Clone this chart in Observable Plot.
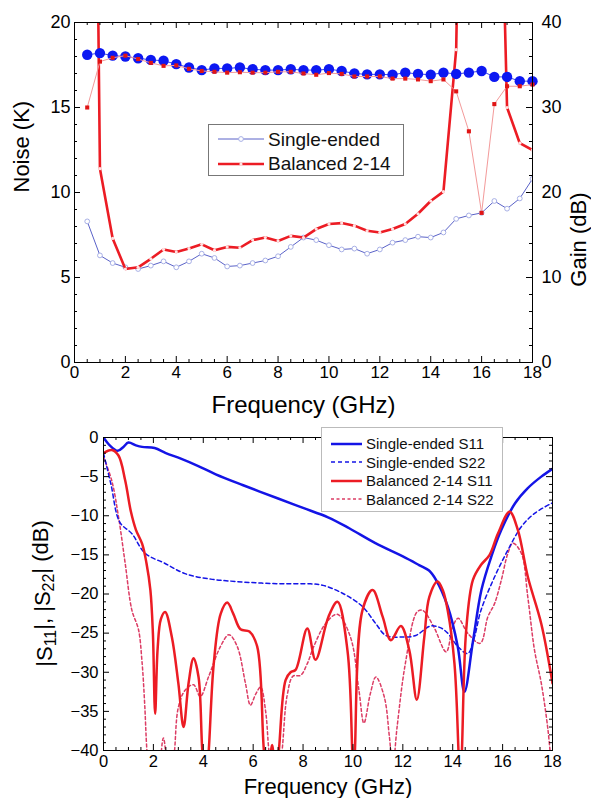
<!DOCTYPE html>
<html><head><meta charset="utf-8">
<script src="https://cdn.jsdelivr.net/npm/d3@7"></script>
<script src="https://cdn.jsdelivr.net/npm/@observablehq/plot@0.6"></script>
<style>
body{margin:0;background:#fff;font-family:"Liberation Sans",Arial,sans-serif;}
#wrap{position:relative;width:591px;height:798px;overflow:hidden;}
#top,#bot{display:block;line-height:0;}
svg{overflow:visible;}
.lg{position:absolute;background:#fff;box-sizing:border-box;}
.lg .row{position:absolute;left:0;display:flex;align-items:center;white-space:nowrap;color:#111;line-height:1;}
.lg svg{display:block;}
</style></head><body>
<div id="wrap"><div id="top"></div><div id="bot"></div></div>
<script>
// ---------- DATA: top chart (noise / gain vs frequency) ----------
const topFreq = [0.5,1,1.5,2,2.5,3,3.5,4,4.5,5,5.5,6,6.5,7,7.5,8,8.5,9,9.5,10,10.5,11,11.5,12,12.5,13,13.5,14,14.5,15,15.5,16,16.5,17,17.5,18];
const seNoise = [8.3,6.3,5.85,5.6,5.5,5.7,5.95,5.6,5.95,6.4,6.15,5.65,5.7,5.85,6.0,6.25,6.8,7.35,7.2,6.9,6.65,6.7,6.4,6.65,7.05,7.2,7.4,7.35,7.65,8.45,8.65,8.8,9.5,9.05,9.65,10.8];
const balNoise = [80,11.4,7.3,5.5,5.6,6.1,6.65,6.5,6.7,6.95,6.6,6.8,6.75,7.2,7.35,7.15,7.45,7.35,7.85,8.15,8.2,8.05,7.75,7.65,7.85,8.15,8.75,9.5,10.05,18.4,60,60,45,15.0,12.9,12.5];
const seGain = [36.2,36.4,36.1,36.0,35.8,35.6,35.5,35.1,34.7,34.4,34.6,34.6,34.7,34.5,34.4,34.4,34.5,34.4,34.4,34.5,34.3,34.0,33.9,33.9,33.85,34.1,33.95,33.85,34.1,33.95,34.1,34.3,33.6,33.6,33.1,33.1];
const balGain = [30.0,35.4,35.85,36.1,35.7,35.25,34.9,34.95,34.55,34.3,34.2,34.1,34.15,34.1,34.1,34.2,34.2,34.0,33.85,34.05,33.95,33.65,33.65,33.65,33.4,33.4,33.3,33.1,33.3,31.9,27.2,17.6,30.4,32.5,32.5,32.7];
const topNames = ["Single-ended","Balanced 2-14"];
const freqTicks = [0,2,4,6,8,10,12,14,16,18];
const noiseTicks = [0,5,10,15,20];
const gainTicks = [0,10,20,30,40];

// ---------- DATA: bottom chart (|S11|, |S22| in dB) ----------
const seS11F = [0,0.25,0.57,0.8,1.0,1.3,1.55,2.05,2.5,3.1,3.8,4.5,5.6,7.0,8.0,9.0,9.85,10.9,12.0,12.65,13.05,13.33,13.8,14.2,14.47,14.8,15.15,15.55,15.95,16.5,17.0,17.55,18.0];
const seS11 = [0,-1.0,-1.7,-1.2,-0.65,-1.0,-1.2,-1.35,-2.0,-2.7,-3.65,-4.7,-6.1,-7.8,-9.0,-10.2,-11.6,-13.5,-15.2,-16.3,-17.0,-18.2,-21.6,-26.7,-32.5,-26.3,-19.5,-15.2,-11.8,-8.4,-6.5,-5.0,-4.0];
const seS22F = [0,0.3,0.65,1.14,1.67,2.47,3.27,4.3,5.3,6.3,7.3,8.3,8.8,9.58,10.38,10.92,11.32,11.99,12.52,13.1,13.5,13.8,14.2,14.6,14.87,15.13,15.68,16.21,16.75,17.28,18];
const seS22 = [-2.0,-6.0,-10.8,-12.3,-14.8,-16.1,-17.4,-18.1,-18.4,-18.6,-18.7,-18.7,-18.9,-19.9,-21.6,-23.8,-25.3,-25.5,-25.3,-24.1,-24.3,-25.0,-26.7,-27.6,-25.5,-22.1,-17.8,-14.4,-11.4,-9.7,-8.35];
const balS11F = [0,0.33,0.6,0.87,1.1,1.3,1.55,1.72,1.88,1.98,2.07,2.17,2.3,2.47,2.74,3.0,3.21,3.41,3.61,3.81,3.96,4.1,4.22,4.42,4.7,4.96,5.2,5.49,5.85,6.16,6.43,6.58,6.76,6.9,7.03,7.3,7.5,7.7,8.17,8.5,9.02,9.38,9.78,9.97,10.02,10.08,10.38,10.79,11.19,11.52,11.92,12.26,12.56,12.86,13.06,13.39,13.6,13.8,14.07,14.23,14.3,14.37,14.54,14.81,15.13,15.48,15.81,16.28,16.61,17.01,17.55,18];
const balS11 = [-2.0,-1.6,-2.3,-5.5,-9.5,-11.8,-13.6,-16,-19.5,-25,-35.3,-27,-23.2,-22.3,-25.5,-31.4,-37.0,-31.4,-28.2,-30.6,-40,-45,-40,-28.9,-22.5,-21.1,-22.5,-24.5,-24.8,-26.7,-40,-44,-39.3,-44,-40,-31,-30,-29.7,-24.4,-28.4,-22.9,-21.0,-27.2,-40,-46,-40,-22.1,-19.5,-22.9,-25.9,-24.1,-27.2,-33.5,-25.5,-20.4,-18.4,-19.5,-22.1,-28.9,-40,-46,-40,-24.6,-18.2,-16.3,-15.0,-12.3,-9.5,-11.8,-17.8,-23.8,-31.4];
const balS22F = [0,0.33,0.6,0.87,1.14,1.4,1.54,1.65,1.74,1.95,2.2,2.4,2.55,2.7,2.85,3.0,3.27,3.61,3.88,4.21,4.69,5.03,5.36,5.69,5.89,6.1,6.3,6.5,6.63,6.9,7.16,7.36,7.6,7.9,8.17,8.43,8.9,9.37,9.9,10.24,10.44,10.7,10.92,11.26,11.46,11.6,11.77,12.1,12.57,12.8,13.24,13.74,14.0,14.22,14.6,15.1,15.41,15.68,15.95,16.21,16.41,16.75,17.01,17.28,17.55,17.82,17.95];
const balS22 = [-2.5,-5.5,-10.1,-16.1,-22.1,-24.5,-28.5,-34,-40,-48,-44,-38.4,-42,-46,-40,-34.5,-32.3,-31.6,-33.1,-30.6,-26.7,-25.2,-26.7,-31.4,-34.2,-32.8,-31.9,-35,-40,-47,-40,-33,-30.5,-30.4,-28.9,-26.7,-23.8,-22.6,-25.5,-32.3,-36.5,-32.7,-30.6,-33.2,-38.2,-42,-37,-28.9,-22.3,-22.1,-24.2,-27.4,-24.2,-23.1,-25.0,-26.3,-22.9,-21.2,-18.2,-14.8,-13.5,-14.8,-20.4,-27.2,-31.4,-37.4,-42];
const botNames = ["Single-ended S11","Single-ended S22","Balanced 2-14 S11","Balanced 2-14 S22"];
const dbTicks = [0,-5,-10,-15,-20,-25,-30,-35,-40];

// ---------- styles ----------
const BLUE = "#1414e6", RED = "#ec1c24", PINK = "#dc3c64";
const FONT = "Liberation Sans, Arial, sans-serif";
const W = 591;

function frameTicks(innerW, innerH, xMaj, xMin, yMaj, yMin) {
  const L = 6, l = 3;
  return [
    Plot.tickX(xMaj, {x: d => d, insetTop: innerH - L}),
    Plot.tickX(xMaj, {x: d => d, insetBottom: innerH - L}),
    Plot.tickX(xMin, {x: d => d, insetTop: innerH - l}),
    Plot.tickX(xMin, {x: d => d, insetBottom: innerH - l}),
    Plot.tickY(yMaj, {y: d => d, insetRight: innerW - L}),
    Plot.tickY(yMin, {y: d => d, insetRight: innerW - l}),
    Plot.tickY(yMaj, {y: d => d, insetLeft: innerW - L}),
    Plot.tickY(yMin, {y: d => d, insetLeft: innerW - l})
  ];
}
const halfSteps = d3.range(0, 36.5, 1).map(i => i / 2).filter(v => v % 2 !== 0);

// ---------- top chart ----------
const tm = {top: 22, right: 59, bottom: 53, left: 74};
const tH = 415;
const tInW = W - tm.left - tm.right, tInH = tH - tm.top - tm.bottom;
const rows = topFreq.map((f, i) => ({f, seN: seNoise[i], balN: balNoise[i], seG: seGain[i], balG: balGain[i]}));
const noiseMinor = d3.range(0, 21).filter(v => v % 5 !== 0);

const topPlot = Plot.plot({
  width: W, height: tH,
  marginTop: tm.top, marginRight: tm.right, marginBottom: tm.bottom, marginLeft: tm.left,
  style: {fontFamily: FONT, fontSize: "17px", background: "white", color: "#000", overflow: "visible"},
  x: {domain: [0, 18]},
  y: {domain: [0, 20]},
  marks: [
    // noise
    Plot.line(rows, {x: "f", y: "seN", stroke: "#5a62c8", strokeWidth: 1, clip: true}),
    Plot.dot(rows, {x: "f", y: "seN", r: 2.4, fill: "white", stroke: "#a8b0e6", strokeWidth: 1, clip: true}),
    Plot.line(rows, {x: "f", y: "balN", stroke: RED, strokeWidth: 2.6, clip: true}),
    Plot.dot(rows, {x: "f", y: "balN", r: 1.6, fill: "#ffe0e0", clip: true}),
    // gain (right axis, 0..40 dB mapped onto 0..20)
    Plot.line(rows, {x: "f", y: d => d.seG / 2, stroke: "#3a46e8", strokeWidth: 1}),
    Plot.dot(rows, {x: "f", y: d => d.seG / 2, r: 5.2, fill: "#0c18f2"}),
    Plot.line(rows, {x: "f", y: d => d.balG / 2, stroke: "#f39a9a", strokeWidth: 1}),
    Plot.dot(rows, {x: "f", y: d => d.balG / 2, symbol: "square", r: 2.3, fill: "#e01414"}),
    Plot.frame({stroke: "#000", strokeWidth: 1}),
    ...frameTicks(tInW, tInH, freqTicks, halfSteps, noiseTicks, noiseMinor),
    Plot.axisX(freqTicks, {tickSize: 0, tickPadding: 3, fontSize: 17, label: null}),
    Plot.axisY(noiseTicks, {anchor: "left", tickSize: 0, tickPadding: 4, fontSize: 18, label: null}),
    Plot.axisY(gainTicks.map(g => g / 2), {anchor: "right", tickSize: 0, tickPadding: 9, fontSize: 18, label: null, tickFormat: d => String(d * 2)}),
    Plot.text(["Frequency (GHz)"], {text: d => d, frameAnchor: "bottom", dy: 50, fontSize: 24}),
    Plot.text(["Noise (K)"], {text: d => d, frameAnchor: "left", dx: -53, rotate: -90, fontSize: 22}),
    Plot.text(["Gain (dB)"], {text: d => d, frameAnchor: "right", dx: 46, rotate: -90, fontSize: 22})
  ]
});
document.getElementById("top").appendChild(topPlot);

// ---------- bottom chart ----------
const bm = {top: 22, right: 39, bottom: 48, left: 103};
const bH = 383;
const bInW = W - bm.left - bm.right, bInH = bH - bm.top - bm.bottom;
const curve = (F, V) => F.map((f, i) => ({f, v: V[i]}));
const dbMinor = d3.range(-40, 1).filter(v => v % 5 !== 0);

const botPlot = Plot.plot({
  width: W, height: bH,
  marginTop: bm.top, marginRight: bm.right, marginBottom: bm.bottom, marginLeft: bm.left,
  style: {fontFamily: FONT, fontSize: "16.5px", background: "white", color: "#000", overflow: "visible"},
  x: {domain: [0, 18]},
  y: {domain: [-40, 0]},
  marks: [
    Plot.line(curve(balS22F, balS22), {x: "f", y: "v", stroke: PINK, strokeWidth: 1.5, strokeDasharray: "3,2.5", curve: "catmull-rom", clip: true}),
    Plot.line(curve(seS22F, seS22), {x: "f", y: "v", stroke: BLUE, strokeWidth: 1.5, strokeDasharray: "4,3", curve: "catmull-rom", clip: true}),
    Plot.line(curve(seS11F, seS11), {x: "f", y: "v", stroke: BLUE, strokeWidth: 2.5, curve: "catmull-rom", clip: true}),
    Plot.line(curve(balS11F, balS11), {x: "f", y: "v", stroke: RED, strokeWidth: 2.5, curve: "catmull-rom", clip: true}),
    Plot.frame({stroke: "#000", strokeWidth: 1}),
    ...frameTicks(bInW, bInH, freqTicks, halfSteps, dbTicks, dbMinor),
    Plot.axisX(freqTicks, {tickSize: 0, tickPadding: 5, fontSize: 16.5, label: null}),
    Plot.axisY(dbTicks, {anchor: "left", tickSize: 0, tickPadding: 5, fontSize: 16.5, label: null}),
    Plot.text(["Frequency (GHz)"], {text: d => d, frameAnchor: "bottom", dy: 43, fontSize: 22})
  ]
});
document.getElementById("bot").appendChild(botPlot);

// y label with subscripts
{
  const t = d3.select(botPlot).append("text")
    .attr("transform", `translate(46,${bm.top + bInH / 2}) rotate(-90)`)
    .attr("text-anchor", "middle").attr("dominant-baseline", "middle")
    .attr("font-size", 22).attr("font-family", FONT).attr("fill", "#000");
  const parts = [["|S", 0], ["11", 1], ["|, |S", 0], ["22", 1], ["| (dB)", 0]];
  let sub = false;
  for (const [s, isSub] of parts) {
    const ts = t.append("tspan").text(s);
    if (isSub && !sub) { ts.attr("dy", "0.35em").attr("font-size", 16); sub = true; }
    else if (!isSub && sub) { ts.attr("dy", "-0.35em"); sub = false; }
  }
}

// ---------- legends ----------
const wrap = document.getElementById("wrap");
function legend(box, entries, opts) {
  const d = document.createElement("div");
  d.className = "lg";
  Object.assign(d.style, {left: box.left + "px", top: box.top + "px", width: box.w + "px", height: box.h + "px", border: "1px solid " + opts.border, fontSize: opts.font + "px"});
  entries.forEach((e, i) => {
    const r = document.createElement("div");
    r.className = "row";
    r.style.top = (opts.y0 + i * opts.dy - 10) + "px";
    r.style.height = "20px";
    r.style.left = opts.x0 + "px";
    const sw = opts.sw;
    let svg = `<svg width="${sw + opts.gap}" height="20"><line x1="0" x2="${sw}" y1="10" y2="10" stroke="${e.color}" stroke-width="${e.width}" ${e.dash ? `stroke-dasharray="${e.dash}"` : ""}/>`;
    if (e.marker) svg += e.marker(sw / 2);
    svg += `</svg>`;
    r.innerHTML = svg + `<span>${e.name}</span>`;
    d.appendChild(r);
  });
  wrap.appendChild(d);
}
legend({left: 208, top: 124, w: 196, h: 52}, [
  {name: topNames[0], color: "#5a62c8", width: 1, marker: cx => `<circle cx="${cx}" cy="10" r="2.4" fill="white" stroke="#a8b0e6"/>`},
  {name: topNames[1], color: RED, width: 2.6, marker: cx => `<circle cx="${cx}" cy="10" r="1.6" fill="#ffe0e0"/>`}
], {border: "#777", font: 19, x0: 9, y0: 14, dy: 24.5, sw: 46, gap: 4});

legend({left: 321, top: 427, w: 182, h: 85}, [
  {name: botNames[0], color: BLUE, width: 2.5},
  {name: botNames[1], color: BLUE, width: 1.5, dash: "4,3"},
  {name: botNames[2], color: RED, width: 2.5},
  {name: botNames[3], color: PINK, width: 1.5, dash: "3,2.5"}
], {border: "#bbb", font: 15, x0: 9, y0: 15.5, dy: 18.6, sw: 31, gap: 4});
</script>
</body></html>
